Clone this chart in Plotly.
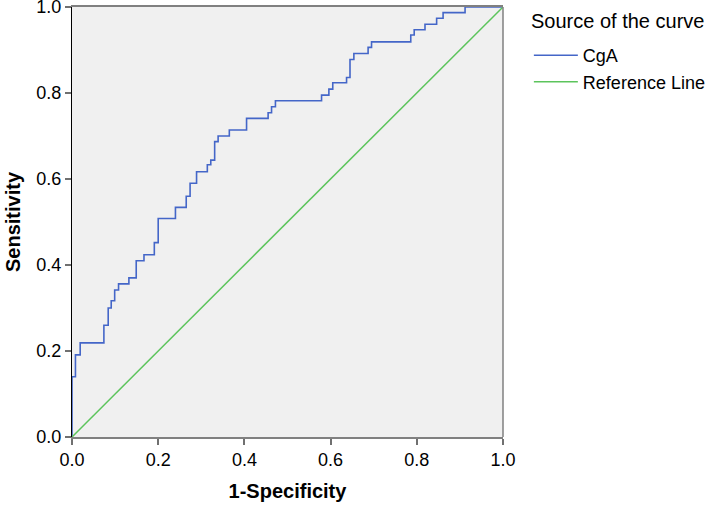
import plotly.graph_objects as go

# ROC curve for CgA (step vertices: 1-specificity, sensitivity)
fpr = [0.0, 0.0, 0.008, 0.019, 0.074, 0.084, 0.091, 0.099, 0.108, 0.132,
       0.149, 0.167, 0.191, 0.200, 0.240, 0.265, 0.274, 0.289, 0.314, 0.322,
       0.331, 0.339, 0.365, 0.405, 0.455, 0.463, 0.472, 0.579, 0.596, 0.605,
       0.637, 0.645, 0.654, 0.687, 0.695, 0.786, 0.794, 0.819, 0.846, 0.861,
       0.912, 1.0]
tpr = [0.0, 0.140, 0.191, 0.219, 0.260, 0.300, 0.317, 0.342, 0.356, 0.370,
       0.410, 0.424, 0.452, 0.508, 0.534, 0.560, 0.590, 0.617, 0.633, 0.644,
       0.687, 0.700, 0.714, 0.741, 0.754, 0.768, 0.782, 0.795, 0.809, 0.824,
       0.836, 0.878, 0.892, 0.906, 0.919, 0.935, 0.947, 0.960, 0.974, 0.987,
       1.0, 1.0]

ref_x = [0.0, 1.0]
ref_y = [0.0, 1.0]

tick_vals = [0.0, 0.2, 0.4, 0.6, 0.8, 1.0]
tick_text = ["0.0", "0.2", "0.4", "0.6", "0.8", "1.0"]

FONT = "Liberation Sans, Arial, sans-serif"

fig = go.Figure()
fig.add_trace(
    go.Scatter(
        x=fpr, y=tpr, mode="lines", name="CgA",
        line=dict(color="#4466C8", width=1.6, shape="hv"),
    )
)
fig.add_trace(
    go.Scatter(
        x=ref_x, y=ref_y, mode="lines", name="Reference Line",
        line=dict(color="#5CC45C", width=1.5),
    )
)

axis_common = dict(
    range=[0, 1],
    tickvals=tick_vals,
    ticktext=tick_text,
    ticks="outside",
    ticklen=6,
    tickwidth=1.5,
    tickcolor="#707070",
    showgrid=False,
    zeroline=False,
    automargin=False,
    tickfont=dict(family=FONT, size=18, color="#000000"),
)

fig.update_xaxes(
    **axis_common,
    showline=True, linecolor="#808080", linewidth=1.5, mirror=True,
    title=dict(text="<b>1-Specificity</b>", font=dict(family=FONT, size=20, color="#000"),
               standoff=15),
)
fig.update_yaxes(
    **axis_common,
    showline=True, linecolor="#000000", linewidth=1,
    title=dict(text="<b>Sensitivity</b>", font=dict(family=FONT, size=20, color="#000"),
               standoff=10),
)

# right border of the frame
fig.add_shape(type="line", xref="paper", yref="paper", x0=1, x1=1, y0=0, y1=1,
              line=dict(color="#808080", width=1.5))

# legend heading
fig.add_annotation(
    text="Source of the curve", xref="paper", yref="paper",
    x=1.06, xanchor="left", y=0.967, yanchor="middle", showarrow=False,
    font=dict(family=FONT, size=20, color="#000"),
)

# the canvas is a bit larger than the window so labels at the frame edge
# are not dropped; the page is shifted so the plot area lands where it should
fig.update_layout(
    width=728,
    height=525,
    margin=dict(l=72, r=225, t=27, b=68),
    plot_bgcolor="#F0F0F0",
    paper_bgcolor="#FFFFFF",
    font=dict(family=FONT, color="#000"),
    showlegend=True,
    legend=dict(
        font=dict(family=FONT, size=18),
        x=1.06, xanchor="left", y=0.93, yanchor="top",
        bgcolor="rgba(0,0,0,0)",
        itemwidth=44,
        tracegroupgap=0,
    ),
)

fig.write_html(
    "out.html",
    config=dict(displayModeBar=False),
    post_script=(
        "document.body.style.margin='0';"
        "document.body.style.marginTop='-20px';"
        "document.body.style.overflow='hidden';"
    ),
)
